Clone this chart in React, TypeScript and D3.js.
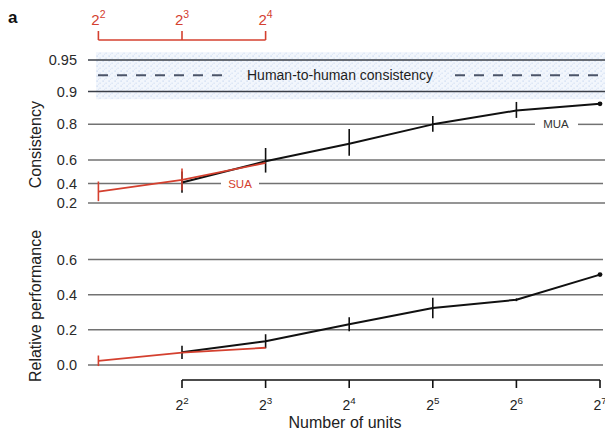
import React from "react";
import * as d3 from "d3";

// Number of multi-unit (MUA) and single-unit (SUA) sites pooled
const MUA_UNITS = [4, 8, 16, 32, 64, 128];
const SUA_UNITS = [4, 8, 16];

// Consistency with human behaviour (top panel)
const muaConsistency = [0.41, 0.59, 0.705, 0.8, 0.85, 0.87];
const muaConsistencyErr = [0.1, 0.09, 0.075, 0.032, 0.025, 0];
const suaConsistency = [0.32, 0.435, 0.578];
const suaConsistencyErr = [0.1, 0.1, 0];

// Human-to-human consistency and its spread
const humanConsistency = 0.93;
const humanBand = [0.882, 0.958];

// Relative performance (bottom panel)
const muaPerformance = [0.072, 0.135, 0.232, 0.324, 0.371, 0.514];
const muaPerformanceErr = [0.038, 0.04, 0.04, 0.058, 0.008, 0];
const suaPerformance = [0.024, 0.07, 0.098];
const suaPerformanceErr = [0.03, 0, 0];

const consistencyTicks = [0.2, 0.4, 0.6, 0.8, 0.9, 0.95];
const consistencyTickLabels = ["0.2", "0.4", "0.6", "0.8", "0.9", "0.95"];
const performanceTicks = [0, 0.2, 0.4, 0.6];
const performanceTickLabels = ["0.0", "0.2", "0.4", "0.6"];

const RED = "#d4402f";
const GRID = "#727272";
const FONT = "'Liberation Sans', Arial, Helvetica, sans-serif";

const GRID_X0 = 88;
const GRID_X1 = 603;

// x: number of units on a log2 axis
const x = d3.scaleLog().base(2).domain([4, 128]).range([182, 600]);
// SUA axis sits one octave to the left of the MUA axis
const xSua = d3.scaleLog().base(2).domain([4, 16]).range([x(2), x(8)]);

// Consistency is drawn on a Fisher-z (atanh) scale
const zLin = d3.scaleLinear().domain([Math.atanh(0.2), Math.atanh(0.95)]).range([203, 60]);
const yTop = (v: number) => zLin(Math.atanh(v));
const yBot = d3.scaleLinear().domain([0, 0.6]).range([365, 259.5]);

function Pow2({ x: px, y, exp, color, size = 14 }: { x: number; y: number; exp: number; color: string; size?: number }) {
  return (
    <text x={px} y={y} textAnchor="middle" fill={color} fontSize={size} fontFamily={FONT}>
      2
      <tspan fontSize={size * 0.7} dy={-size * 0.45}>
        {exp}
      </tspan>
    </text>
  );
}

function Series({
  xs,
  ys,
  errs,
  xScale,
  yScale,
  color,
  width,
  endDot,
}: {
  xs: number[];
  ys: number[];
  errs: number[];
  xScale: (v: number) => number;
  yScale: (v: number) => number;
  color: string;
  width: number;
  endDot?: boolean;
}) {
  const pts: [number, number][] = xs.map((u, i) => [xScale(u), yScale(ys[i])]);
  const line = d3.line()(pts) || "";
  const last = pts[pts.length - 1];
  return (
    <g>
      <path d={line} fill="none" stroke={color} strokeWidth={width} strokeLinejoin="round" />
      {xs.map((u, i) =>
        errs[i] > 0 ? (
          <line
            key={i}
            x1={xScale(u)}
            x2={xScale(u)}
            y1={yScale(Math.min(ys[i] + errs[i], 0.99))}
            y2={yScale(ys[i] - errs[i])}
            stroke={color}
            strokeWidth={1.6}
          />
        ) : null
      )}
      {endDot ? <circle cx={last[0]} cy={last[1]} r={2.4} fill={color} /> : null}
    </g>
  );
}

export default function App() {
  const humanY = yTop(humanConsistency);
  const bandTop = yTop(humanBand[1]);
  const bandBot = yTop(humanBand[0]);
  const y08 = yTop(0.8);
  const y04 = yTop(0.4);

  return (
    <svg
      width={605}
      height={435}
      viewBox="0 0 605 435"
      style={{ position: "absolute", left: 0, top: 0, background: "#fff" }}
    >
      <defs>
        <pattern id="speckle" width="6" height="5" patternUnits="userSpaceOnUse">
          <rect width="6" height="5" fill="#f1f5fc" />
          <rect x="0.5" y="0.5" width="1.2" height="1.2" fill="#bcd0ec" />
          <rect x="3.5" y="2.6" width="1.2" height="1.2" fill="#c9d9f0" />
          <rect x="2" y="3.8" width="1" height="1" fill="#d6e2f4" />
        </pattern>
      </defs>

      {/* panel letter */}
      <text x={8} y={23} fontSize={17} fontWeight="bold" fontFamily={FONT} fill="#111">
        a
      </text>

      {/* SUA axis (top, red) */}
      <line x1={xSua(4)} x2={xSua(16)} y1={40} y2={40} stroke={RED} strokeWidth={1.6} />
      {SUA_UNITS.map((u) => (
        <g key={u}>
          <line x1={xSua(u)} x2={xSua(u)} y1={40} y2={31} stroke={RED} strokeWidth={1.6} />
          <Pow2 x={xSua(u)} y={25} exp={Math.log2(u)} color={RED} size={15} />
        </g>
      ))}

      {/* human-to-human consistency band */}
      <rect x={96} y={bandTop} width={GRID_X1 - 96 + 2} height={bandBot - bandTop} fill="url(#speckle)" opacity={0.9} />

      {/* consistency gridlines */}
      {consistencyTicks.map((t) => {
        const yy = yTop(t);
        const dark = t >= 0.9;
        const stroke = dark ? "#3a3f48" : GRID;
        if (t === 0.8) {
          return (
            <g key={t}>
              <line x1={GRID_X0} x2={535} y1={yy} y2={yy} stroke={stroke} strokeWidth={1.5} />
              <line x1={578} x2={GRID_X1} y1={yy} y2={yy} stroke={stroke} strokeWidth={1.5} />
            </g>
          );
        }
        if (t === 0.4) {
          return (
            <g key={t}>
              <line x1={GRID_X0} x2={221} y1={yy} y2={yy} stroke={stroke} strokeWidth={1.5} />
              <line x1={259} x2={GRID_X1} y1={yy} y2={yy} stroke={stroke} strokeWidth={1.5} />
            </g>
          );
        }
        return <line key={t} x1={GRID_X0} x2={GRID_X1 + 2} y1={yy} y2={yy} stroke={stroke} strokeWidth={dark ? 1.6 : 1.5} />;
      })}
      {consistencyTicks.map((t, i) => (
        <text
          key={t}
          x={77}
          y={yTop(t)}
          dy="0.35em"
          textAnchor="end"
          fontSize={14.5}
          fontFamily={FONT}
          fill="#2a2a2a"
        >
          {consistencyTickLabels[i]}
        </text>
      ))}

      {/* human consistency dashed line with label */}
      <line x1={98} x2={226} y1={humanY} y2={humanY} stroke="#4b5468" strokeWidth={2} strokeDasharray="10 9" />
      <text x={340} y={humanY} dy="0.36em" textAnchor="middle" fontSize={14} fontFamily={FONT} fill="#1e1e1e">
        Human-to-human consistency
      </text>
      <line x1={455} x2={605} y1={humanY} y2={humanY} stroke="#4b5468" strokeWidth={2} strokeDasharray="10 9" />

      {/* series labels */}
      <text x={556} y={y08} dy="0.36em" textAnchor="middle" fontSize={11.5} fontFamily={FONT} fill="#333">
        MUA
      </text>
      <text x={240} y={y04} dy="0.36em" textAnchor="middle" fontSize={11.5} fontFamily={FONT} fill={RED}>
        SUA
      </text>

      {/* consistency series */}
      <Series xs={MUA_UNITS} ys={muaConsistency} errs={muaConsistencyErr} xScale={x} yScale={yTop} color="#111" width={2} endDot />
      <Series xs={SUA_UNITS} ys={suaConsistency} errs={suaConsistencyErr} xScale={xSua} yScale={yTop} color={RED} width={1.8} />

      <text
        transform={`translate(41,${yTop(0.7)}) rotate(-90)`}
        textAnchor="middle"
        fontSize={16}
        fontFamily={FONT}
        fill="#222"
      >
        Consistency
      </text>

      {/* performance gridlines */}
      {performanceTicks.map((t, i) => (
        <g key={t}>
          <line x1={GRID_X0} x2={GRID_X1} y1={yBot(t)} y2={yBot(t)} stroke={GRID} strokeWidth={1.5} />
          <text x={77} y={yBot(t)} dy="0.35em" textAnchor="end" fontSize={14.5} fontFamily={FONT} fill="#2a2a2a">
            {performanceTickLabels[i]}
          </text>
        </g>
      ))}

      <Series xs={MUA_UNITS} ys={muaPerformance} errs={muaPerformanceErr} xScale={x} yScale={yBot} color="#111" width={2} endDot />
      <Series xs={SUA_UNITS} ys={suaPerformance} errs={suaPerformanceErr} xScale={xSua} yScale={yBot} color={RED} width={1.8} />

      <text
        transform={`translate(41,306) rotate(-90)`}
        textAnchor="middle"
        fontSize={16}
        fontFamily={FONT}
        fill="#222"
      >
        Relative performance
      </text>

      {/* x axis */}
      <line x1={x(4)} x2={x(128)} y1={380} y2={380} stroke="#111" strokeWidth={1.6} />
      {MUA_UNITS.map((u) => (
        <g key={u}>
          <line x1={x(u)} x2={x(u)} y1={380} y2={388} stroke="#111" strokeWidth={1.6} />
          <Pow2 x={x(u)} y={410} exp={Math.log2(u)} color="#222" size={14} />
        </g>
      ))}
      <text x={345} y={428} textAnchor="middle" fontSize={16} fontFamily={FONT} fill="#222">
        Number of units
      </text>
    </svg>
  );
}
